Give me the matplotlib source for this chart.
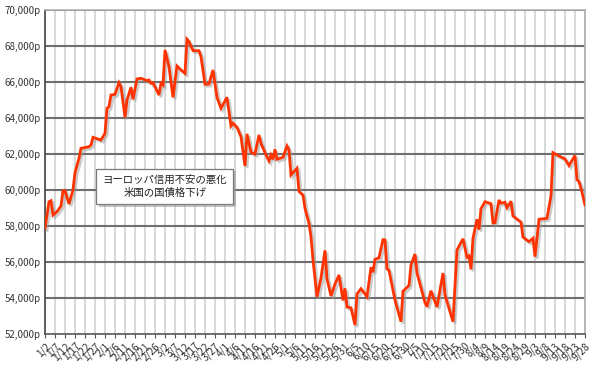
import matplotlib
matplotlib.use("Agg")
import matplotlib.pyplot as plt
import matplotlib.patheffects as pe
import numpy as np
import pandas as pd
from matplotlib.ticker import FuncFormatter

plt.rcParams['font.family'] = ['Noto Sans CJK JP', 'DejaVu Sans']

# price (yen per ... "p"), 2012
dates = ["01-02", "01-04", "01-05", "01-06", "01-08", "01-10", "01-11", "01-12", "01-14", "01-16",
         "01-17", "01-19", "01-20", "01-24", "01-25", "01-26", "01-29", "01-30", "02-01", "02-02",
         "02-03", "02-04", "02-06", "02-08", "02-09", "02-11", "02-12", "02-14", "02-15", "02-17",
         "02-19", "02-22", "02-23", "02-24", "02-25", "02-26", "02-28", "02-29", "03-01", "03-02",
         "03-04", "03-06", "03-08", "03-10", "03-12", "03-13", "03-14", "03-16", "03-19", "03-20",
         "03-22", "03-24", "03-26", "03-28", "03-30", "04-02", "04-04", "04-05", "04-07", "04-09",
         "04-11", "04-12", "04-14", "04-16", "04-18", "04-19", "04-21", "04-23", "04-24", "04-25",
         "04-26", "04-27", "04-30", "05-02", "05-03", "05-04", "05-05", "05-07", "05-08", "05-10",
         "05-11", "05-13", "05-14", "05-15", "05-17", "05-19", "05-21", "05-22", "05-24", "05-26",
         "05-28", "05-30", "05-31", "06-01", "06-03", "06-05", "06-06", "06-08", "06-11", "06-13",
         "06-14", "06-15", "06-17", "06-19", "06-20", "06-21", "06-22", "06-25", "06-28", "06-29",
         "07-02", "07-03", "07-05", "07-06", "07-10", "07-11", "07-13", "07-16", "07-19", "07-20",
         "07-24", "07-26", "07-29", "07-31", "08-01", "08-02", "08-03", "08-05", "08-06", "08-07",
         "08-09", "08-12", "08-13", "08-14", "08-16", "08-17", "08-19", "08-20", "08-22", "08-23",
         "08-27", "08-28", "08-31", "09-02", "09-03", "09-05", "09-09", "09-11", "09-12", "09-15",
         "09-18", "09-20", "09-23", "09-24", "09-25", "09-26", "09-28"]
prices = [57850, 59330, 59390, 58590, 58780, 59090, 59945, 59945, 59205, 59983,
          60945, 61744, 62300, 62390, 62483, 62910, 62800, 62760, 63130, 64520,
          64610, 65260, 65300, 65945, 65720, 64020, 64980, 65690, 65020, 66150,
          66190, 66055, 66094, 65910, 65945, 65720, 65260, 65910, 65815, 67760,
          66830, 65130, 66870, 66650, 66467, 68355, 68222, 67722, 67722, 67389,
          65855, 65872, 66650, 65130, 64520, 65130, 63540, 63690, 63465, 62945,
          61317, 63100, 62080, 61983, 63039, 62578, 62055, 61594, 61928, 61689,
          62244, 61689, 61800, 62428, 62206, 60817, 60945, 61189, 59900, 59706,
          58967, 58133, 57389, 56094, 54056, 55100, 56630, 55050, 54094, 54761,
          55261, 53850, 54522, 53480, 53440, 52483, 54206, 54500, 54056, 55689,
          55420, 56133, 56220, 57225, 57206, 55600, 55520, 53872, 52667, 54360,
          54680, 55817, 56428, 55370, 53730, 53500, 54389, 53480, 55370, 54150,
          52667, 56650, 57270, 56244, 56317, 55578, 57300, 58356, 57780, 58940,
          59333, 59225, 58150, 58167, 59428, 59250, 59300, 59000, 59360, 58539,
          58200, 57370, 57111, 57300, 56278, 58356, 58411, 59650, 62056, 61872,
          61710, 61340, 61900, 60560, 60444, 60078, 59150]

note_text = "ヨーロッパ信用不安の悪化\n米国の国債格下げ"

start = pd.Timestamp("2012-01-02")
end = pd.Timestamp("2012-09-28")
d = pd.to_datetime(["2012-" + s for s in dates])
x = np.array((d - start).days)

tick_days = pd.date_range(start, end, freq="5D")
tick_x = np.array((tick_days - start).days)
tick_labels = [f"{t.month}/{t.day}" for t in tick_days]

fig = plt.figure(figsize=(5.99, 3.71), dpi=100)
ax = fig.add_axes([0.0751, 0.1005, 0.9015, 0.8734])

ax.set_xlim(0, (end - start).days)
ax.set_ylim(52000, 70000)
ax.set_yticks(np.arange(52000, 70001, 2000))
ax.yaxis.set_major_formatter(FuncFormatter(lambda v, p: f"{int(v):,}p"))
ax.set_xticks(tick_x)
ax.set_xticklabels(tick_labels, rotation=45, ha="right", va="top", rotation_mode="anchor")

ax.tick_params(axis="x", labelsize=7.2, length=3, color="#555555", labelcolor="#333333", pad=2)
ax.tick_params(axis="y", labelsize=7, length=0, labelcolor="#333333", pad=3)

for xv in tick_x:
    ax.axvline(xv, color="#d4d4d4", lw=1.3, zorder=1)
for yv in np.arange(54000, 70001, 2000):
    ax.axhline(yv, color="#6e6e6e", lw=1.5, zorder=1)

for s in ["top", "right"]:
    ax.spines[s].set_color("#b0b0b0")
    ax.spines[s].set_linewidth(1.2)
ax.spines["left"].set_color("#444444")
ax.spines["bottom"].set_color("#555555")
ax.spines["left"].set_linewidth(1.2)
ax.spines["bottom"].set_linewidth(1.2)

ax.plot(x, prices, color="#ff3300", lw=2.0, zorder=3, solid_joinstyle="miter",
        path_effects=[pe.SimpleLineShadow(offset=(1.5, -1.5), shadow_color="#999999", alpha=0.5),
                      pe.Normal()])

t = ax.text(60, 60180, note_text, ha="center", va="center", fontsize=7.5, color="#222222",
            linespacing=1.35, zorder=5,
            bbox=dict(boxstyle="square,pad=0.6", fc="white", ec="#7a7a7a", lw=0.9))
t.get_bbox_patch().set_path_effects([pe.SimplePatchShadow(offset=(2, -2), shadow_rgbFace="#999999", alpha=0.6),
                                     pe.Normal()])

fig.savefig("out.png", dpi=100)
